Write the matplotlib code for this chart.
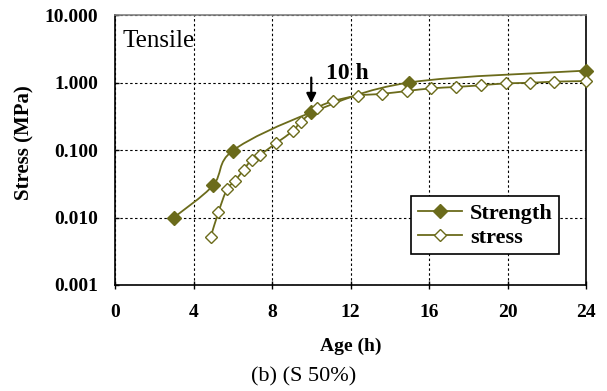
import numpy as np
import matplotlib
matplotlib.use("Agg")
import matplotlib.pyplot as plt
from matplotlib.path import Path
from matplotlib.patches import PathPatch
from matplotlib.lines import Line2D
from matplotlib.ticker import FixedLocator, FixedFormatter

# tensile strength and induced stress vs. age
strength_age = [3.0, 5.0, 6.0, 10.0, 15.0, 24.0]
strength_val = [0.010, 0.030, 0.098, 0.36, 1.0, 1.5]

stress_age = [4.88, 5.27, 5.70, 6.12, 6.55, 6.97, 7.40, 8.2, 9.05, 9.46, 10.3,
              11.12, 12.37, 13.62, 14.9, 16.12, 17.4, 18.64, 19.9, 21.16, 22.38, 24.0]
stress_val = [0.0052, 0.012, 0.026, 0.035, 0.051, 0.072, 0.085, 0.126, 0.19, 0.26, 0.42,
              0.53, 0.64, 0.68, 0.75, 0.82, 0.86, 0.91, 0.97, 0.99, 1.03, 1.05]

x_ticks = [0, 4, 8, 12, 16, 20, 24]
y_ticks = [0.001, 0.01, 0.1, 1, 10]
y_labels = ["0.001", "0.010", "0.100", "1.000", "10.000"]

olive = "#6b6b1b"
serif = "Liberation Serif"
plt.rcParams["font.family"] = serif


def smooth_path(xs, ys):
    # bezier segments through the points, built in (x, log y) space
    p = np.column_stack([xs, np.log10(ys)])
    n = len(p)
    verts = [p[0]]
    codes = [Path.MOVETO]
    for i in range(n - 1):
        p0 = p[i - 1] if i > 0 else p[i]
        p1 = p[i]
        p2 = p[i + 1]
        p3 = p[i + 2] if i + 2 < n else p[i + 1]
        c1 = p1 + (p2 - p0) / 6.0
        c2 = p2 - (p3 - p1) / 6.0
        verts += [c1, c2, p2]
        codes += [Path.CURVE4] * 3
    verts = np.array(verts)
    verts[:, 1] = 10 ** verts[:, 1]
    return Path(verts, codes)


fig = plt.figure(figsize=(6.07, 3.91), dpi=100)
ax = fig.add_axes([0.1895, 0.2711, 0.7759, 0.6905])
ax.set_yscale("log")
ax.set_xlim(0, 24)
ax.set_ylim(0.001, 10)

for xs, ys in [(strength_age, strength_val), (stress_age, stress_val)]:
    ax.add_patch(PathPatch(smooth_path(xs, ys), facecolor="none",
                           edgecolor=olive, linewidth=1.3, zorder=3))

ax.plot(strength_age, strength_val, ls="none", marker="D", ms=7,
        mfc=olive, mec=olive, zorder=4, clip_on=False)
ax.plot(stress_age, stress_val, ls="none", marker="D", ms=6.3,
        mfc="white", mec=olive, mew=1.0, zorder=4, clip_on=False)

ax.xaxis.set_major_locator(FixedLocator(x_ticks))
ax.yaxis.set_major_locator(FixedLocator(y_ticks))
ax.yaxis.set_major_formatter(FixedFormatter(y_labels))
ax.yaxis.set_minor_locator(FixedLocator([]))
ax.tick_params(axis="x", direction="inout", length=6, width=1, pad=11)
ax.tick_params(axis="y", direction="in", length=3, width=1, pad=12)
for lab in ax.get_xticklabels() + ax.get_yticklabels():
    lab.set_fontweight("bold")
    lab.set_fontsize(14)

ax.grid(True, color="black", linestyle=(0, (2.2, 2.2)), linewidth=0.8)
for side in ["left", "bottom", "right"]:
    ax.spines[side].set_color("black")
    ax.spines[side].set_linewidth(1.2)
ax.spines["top"].set_color("#808080")
ax.spines["top"].set_linewidth(1.2)

ax.set_xlabel("Age (h)", fontsize=14, fontweight="bold", labelpad=12)
ax.set_ylabel("Stress (MPa)", fontsize=15, fontweight="bold", va="center")
ax.yaxis.set_label_coords(-0.193, 0.526)

ax.text(0.015, 0.945, "Tensile", transform=ax.transAxes, fontsize=18,
        va="top", ha="left")
ax.annotate("", xy=(10.0, 0.45), xytext=(10.0, 1.3),
            arrowprops=dict(arrowstyle="-|>", color="black", lw=1.6,
                            mutation_scale=14), zorder=5)
ax.text(10.75, 0.94, "10 h", fontsize=17, fontweight="bold", va="bottom", ha="left")

handles = [
    Line2D([], [], color=olive, lw=1.3, marker="D", ms=7, mfc=olive, mec=olive),
    Line2D([], [], color=olive, lw=1.3, marker="D", ms=6.3, mfc="white", mec=olive),
]
leg = ax.legend(handles, ["Strength", "stress"], loc="lower right",
                bbox_to_anchor=(0.967, 0.073), prop=dict(family=serif, weight="bold", size=16),
                fancybox=False, framealpha=1, edgecolor="black", handlelength=2.0,
                handletextpad=0.35, borderpad=0.3, labelspacing=0.15)
leg.get_frame().set_linewidth(1.2)

fig.text(0.5, 0.035, "(b) (S 50%)", ha="center", va="center", fontsize=16)

fig.savefig("out.png", dpi=100)
